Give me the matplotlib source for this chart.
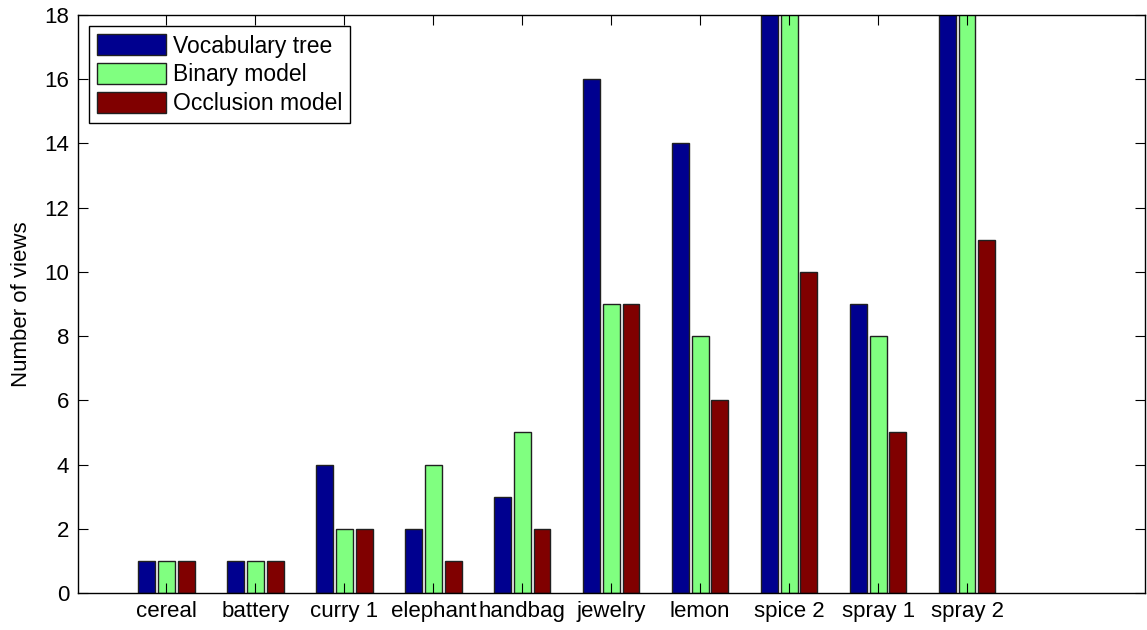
import numpy as np
import matplotlib
matplotlib.use("Agg")
import matplotlib.pyplot as plt

plt.rcParams['font.family'] = ['Liberation Sans', 'DejaVu Sans']

categories = ["cereal", "battery", "curry 1", "elephant", "handbag",
              "jewelry", "lemon", "spice 2", "spray 1", "spray 2"]
vocab_tree = [1, 1, 4, 2, 3, 16, 14, 20, 9, 20]
binary_model = [1, 1, 2, 4, 5, 9, 8, 20, 8, 20]
occlusion_model = [1, 1, 2, 1, 2, 9, 6, 10, 5, 11]
series_names = ["Vocabulary tree", "Binary model", "Occlusion model"]
series_colors = [(0, 0, 0.5625), (0.5, 1.0, 0.5), (0.5, 0, 0)]
yticks = list(range(0, 19, 2))

fig = plt.figure(figsize=(11.47, 6.30), dpi=100)
ax = fig.add_axes([0.0676, 0.0587, 0.9306, 0.9175])

x = np.arange(1, len(categories) + 1)
offset = 0.222
width = 0.19
for i, (vals, name, col) in enumerate(zip([vocab_tree, binary_model, occlusion_model],
                                          series_names, series_colors)):
    ax.bar(x + (i - 1) * offset, vals, width=width, color=col,
           edgecolor='#202020', linewidth=1.0, label=name)

ax.set_xlim(0, 12)
ax.set_ylim(0, 18)
ax.set_xticks(x)
ax.set_xticklabels(categories)
ax.set_yticks(yticks)
ax.set_ylabel("Number of views", fontsize=16, labelpad=9)
ax.tick_params(direction='in', length=7.5, width=0.8, labelsize=16,
               top=True, right=True, pad=6)
for s in ax.spines.values():
    s.set_linewidth(1.0)

leg = ax.legend(loc='upper left', fontsize=16.5, frameon=True, fancybox=False,
                edgecolor='black', framealpha=1, handlelength=3.0,
                handleheight=1.0, borderpad=0.35, labelspacing=0.25,
                handletextpad=0.3, borderaxespad=0.5)
leg.get_frame().set_linewidth(1.0)

fig.savefig("out.png", dpi=100)
